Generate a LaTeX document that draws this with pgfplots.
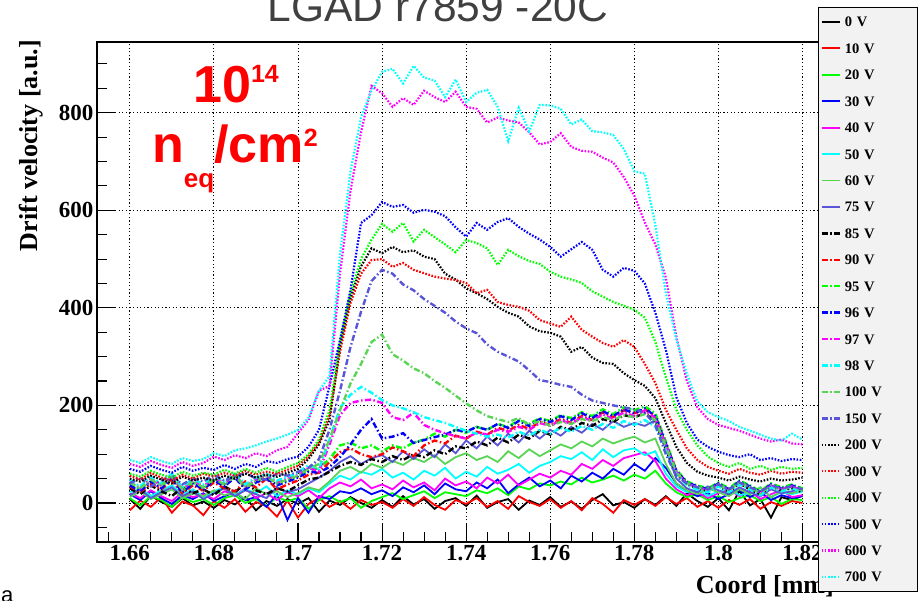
\documentclass[border=0pt]{standalone}
\usepackage{fontspec}
\setmainfont{Liberation Serif}
\newfontfamily\arial{Liberation Sans}
\usepackage{pgfplots}
\usepackage{pgfplotstable}
\pgfplotsset{compat=1.18}
\definecolor{rgreen}{RGB}{0,255,0}
\definecolor{rblue}{RGB}{0,0,255}
\definecolor{rmag}{RGB}{255,0,255}
\definecolor{rcyan}{RGB}{0,255,255}
\definecolor{reight}{RGB}{89,212,84}
\definecolor{rnine}{RGB}{89,84,216}

% one table per series, bins of 0.0025 mm from 1.66 to 1.82
\pgfplotstableread[row sep=\\]{y\\
8\\-12\\15\\2\\-8\\10\\-5\\3\\
-10\\6\\-3\\12\\-15\\4\\-6\\8\\
-2\\10\\-18\\5\\-4\\12\\0\\-10\\
6\\-8\\14\\-3\\8\\-12\\4\\10\\
-6\\15\\-10\\2\\8\\-14\\5\\-4\\
12\\-8\\3\\-12\\6\\18\\-5\\2\\
-10\\8\\-4\\14\\-6\\20\\4\\-8\\
10\\-15\\25\\-5\\8\\-30\\12\\6\\
15\\}\dA
\pgfplotstableread[row sep=\\]{y\\
-15\\5\\-8\\12\\-20\\3\\-5\\-25\\
4\\-10\\8\\-18\\2\\-6\\-28\\5\\
-30\\-2\\10\\-8\\4\\-12\\6\\-4\\
2\\-10\\8\\-6\\12\\-4\\-14\\6\\
-2\\10\\-8\\4\\-12\\14\\2\\-6\\
8\\-10\\4\\-15\\10\\-2\\-20\\6\\
-4\\8\\-6\\12\\-2\\10\\-8\\4\\
-10\\6\\-4\\8\\-12\\2\\-6\\4\\
0\\}\dB
\pgfplotstableread[row sep=\\]{y\\
10\\-5\\14\\6\\-8\\12\\2\\8\\
-4\\10\\16\\0\\8\\-6\\12\\4\\
10\\-12\\6\\14\\2\\10\\-10\\4\\
12\\20\\8\\16\\24\\10\\22\\18\\
14\\26\\20\\30\\16\\34\\28\\40\\
36\\44\\38\\52\\42\\48\\56\\46\\
58\\50\\66\\40\\22\\12\\18\\6\\
14\\2\\10\\16\\4\\12\\-2\\8\\
6\\}\dC
\pgfplotstableread[row sep=\\]{y\\
18\\6\\24\\10\\-2\\16\\8\\20\\
4\\14\\22\\6\\12\\-8\\18\\-35\\
10\\-20\\14\\8\\24\\20\\30\\18\\
26\\14\\32\\22\\36\\18\\40\\28\\
24\\42\\30\\48\\20\\38\\52\\34\\
46\\30\\56\\44\\62\\50\\70\\58\\
80\\66\\92\\72\\40\\24\\14\\20\\
8\\18\\26\\12\\22\\6\\16\\10\\
14\\}\dD
\pgfplotstableread[row sep=\\]{y\\
20\\10\\26\\14\\4\\22\\12\\18\\
8\\24\\16\\30\\10\\20\\6\\22\\
14\\26\\10\\30\\42\\34\\48\\30\\
38\\28\\46\\32\\42\\26\\50\\36\\
44\\30\\52\\40\\58\\36\\48\\60\\
52\\66\\58\\80\\70\\88\\76\\92\\
98\\104\\86\\50\\28\\16\\22\\10\\
20\\28\\14\\24\\8\\18\\26\\12\\
16\\}\dE
\pgfplotstableread[row sep=\\]{y\\
22\\30\\14\\26\\36\\18\\28\\12\\
24\\32\\16\\28\\20\\34\\14\\26\\
18\\30\\22\\40\\56\\48\\64\\58\\
70\\52\\62\\48\\66\\56\\72\\50\\
64\\54\\74\\60\\68\\80\\62\\76\\
84\\96\\90\\104\\88\\110\\94\\108\\
112\\98\\106\\60\\34\\22\\28\\14\\
24\\30\\16\\20\\32\\12\\22\\18\\
24\\}\dF
\pgfplotstableread[row sep=\\]{y\\
12\\24\\8\\18\\28\\10\\20\\14\\
26\\16\\22\\8\\30\\18\\24\\12\\
20\\32\\26\\44\\66\\74\\62\\80\\
72\\86\\78\\92\\84\\98\\80\\94\\
102\\88\\96\\84\\106\\92\\110\\96\\
108\\120\\112\\126\\116\\132\\122\\130\\
136\\124\\132\\80\\40\\26\\18\\30\\
22\\14\\28\\18\\32\\12\\24\\20\\
26\\}\dG
\pgfplotstableread[row sep=\\]{y\\
16\\28\\10\\22\\32\\14\\24\\8\\
20\\30\\14\\26\\18\\10\\32\\22\\
28\\40\\52\\66\\84\\96\\80\\92\\
98\\84\\106\\90\\110\\94\\120\\102\\
128\\112\\136\\118\\142\\124\\148\\132\\
150\\138\\156\\144\\162\\150\\168\\156\\
164\\158\\170\\110\\50\\30\\22\\34\\
26\\18\\32\\22\\14\\28\\20\\24\\
30\\}\dH
\pgfplotstableread[row sep=\\]{y\\
30\\18\\36\\24\\14\\32\\20\\28\\
16\\34\\22\\40\\26\\18\\30\\24\\
36\\48\\52\\64\\76\\84\\78\\90\\
84\\96\\88\\100\\94\\108\\100\\116\\
112\\126\\118\\134\\124\\140\\132\\148\\
140\\156\\150\\164\\158\\172\\166\\180\\
176\\184\\168\\110\\60\\38\\30\\24\\
36\\22\\40\\28\\18\\34\\26\\30\\
22\\}\dI
\pgfplotstableread[row sep=\\]{y\\
34\\22\\40\\28\\46\\20\\36\\26\\
42\\30\\24\\44\\32\\50\\28\\38\\
46\\58\\62\\84\\104\\112\\100\\94\\
100\\114\\106\\96\\118\\128\\122\\138\\
132\\146\\140\\154\\148\\160\\152\\166\\
160\\172\\164\\178\\170\\186\\176\\190\\
184\\192\\178\\120\\64\\42\\34\\28\\
40\\26\\44\\32\\22\\38\\30\\34\\
28\\}\dJ
\pgfplotstableread[row sep=\\]{y\\
40\\28\\46\\34\\52\\24\\42\\30\\
48\\36\\56\\30\\44\\52\\38\\46\\
54\\66\\72\\90\\118\\124\\112\\118\\
106\\118\\112\\124\\130\\142\\136\\150\\
144\\156\\150\\162\\156\\170\\162\\174\\
168\\180\\174\\186\\178\\192\\182\\196\\
190\\198\\184\\126\\68\\44\\36\\30\\
42\\30\\46\\36\\24\\40\\32\\38\\
30\\}\dK
\pgfplotstableread[row sep=\\]{y\\
36\\24\\44\\30\\50\\22\\40\\28\\
46\\34\\52\\28\\42\\50\\36\\44\\
52\\64\\62\\74\\94\\120\\150\\172\\
132\\136\\143\\123\\129\\135\\140\\150\\
146\\156\\150\\162\\154\\168\\158\\172\\
166\\178\\170\\184\\174\\188\\178\\192\\
184\\194\\178\\122\\66\\42\\34\\28\\
40\\28\\44\\34\\22\\38\\30\\36\\
28\\}\dL
\pgfplotstableread[row sep=\\]{y\\
44\\30\\50\\36\\56\\28\\46\\34\\
52\\40\\58\\34\\48\\56\\42\\50\\
58\\72\\65\\120\\180\\205\\210\\212\\
205\\176\\170\\185\\160\\150\\143\\137\\
132\\145\\140\\150\\146\\156\\150\\164\\
158\\170\\162\\176\\168\\182\\172\\186\\
178\\190\\174\\120\\64\\40\\32\\26\\
38\\26\\42\\32\\20\\36\\28\\34\\
26\\}\dM
\pgfplotstableread[row sep=\\]{y\\
48\\34\\54\\40\\60\\32\\50\\38\\
56\\44\\62\\38\\52\\60\\46\\54\\
62\\78\\70\\130\\195\\222\\238\\226\\
211\\200\\194\\186\\176\\170\\164\\156\\
148\\142\\136\\140\\134\\146\\138\\150\\
142\\154\\146\\158\\150\\162\\154\\168\\
160\\170\\156\\108\\58\\36\\28\\22\\
34\\22\\38\\28\\16\\32\\24\\30\\
22\\}\dN
\pgfplotstableread[row sep=\\]{y\\
42\\30\\48\\36\\54\\28\\44\\32\\
50\\38\\56\\32\\46\\54\\40\\48\\
56\\70\\80\\130\\190\\245\\285\\330\\
345\\305\\292\\276\\266\\250\\236\\220\\
204\\190\\178\\172\\166\\174\\160\\168\\
158\\166\\162\\172\\168\\176\\170\\180\\
176\\182\\170\\116\\62\\40\\32\\26\\
38\\26\\42\\32\\20\\36\\28\\34\\
26\\}\dO
\pgfplotstableread[row sep=\\]{y\\
40\\52\\34\\46\\56\\38\\50\\44\\
58\\46\\54\\62\\50\\48\\60\\56\\
64\\72\\90\\150\\230\\320\\392\\455\\
478\\470\\448\\436\\418\\404\\390\\372\\
358\\348\\325\\310\\300\\290\\272\\252\\
248\\242\\238\\222\\210\\205\\200\\196\\
192\\185\\160\\100\\55\\40\\32\\28\\
38\\28\\42\\32\\24\\36\\30\\34\\
28\\}\dP
\pgfplotstableread[row sep=\\]{y\\
50\\44\\56\\48\\40\\54\\46\\52\\
46\\56\\50\\60\\52\\58\\54\\62\\
70\\90\\120\\170\\320\\420\\485\\522\\
512\\525\\514\\518\\505\\500\\470\\458\\
440\\430\\418\\402\\390\\382\\362\\352\\
349\\341\\310\\320\\298\\287\\285\\266\\
252\\240\\215\\164\\115\\82\\64\\56\\
52\\46\\54\\48\\44\\50\\46\\48\\
52\\}\dQ
\pgfplotstableread[row sep=\\]{y\\
56\\48\\62\\52\\46\\58\\50\\60\\
54\\62\\56\\66\\58\\64\\60\\68\\
76\\96\\125\\180\\310\\410\\470\\498\\
500\\484\\492\\478\\471\\464\\460\\457\\
451\\430\\437\\412\\406\\402\\394\\375\\
368\\361\\382\\355\\341\\328\\320\\334\\
320\\285\\246\\191\\150\\112\\88\\74\\
66\\60\\70\\62\\58\\66\\60\\64\\
62\\}\dR
\pgfplotstableread[row sep=\\]{y\\
60\\54\\66\\58\\52\\64\\56\\62\\
58\\68\\60\\70\\62\\72\\64\\74\\
82\\100\\130\\190\\330\\430\\500\\540\\
572\\556\\574\\536\\560\\545\\530\\514\\
539\\533\\522\\488\\519\\506\\496\\490\\
474\\464\\458\\451\\434\\423\\412\\404\\
396\\380\\330\\258\\191\\150\\118\\95\\
82\\74\\82\\70\\76\\68\\74\\70\\
72\\}\dS
\pgfplotstableread[row sep=\\]{y\\
70\\64\\76\\68\\62\\74\\66\\72\\
68\\78\\70\\80\\74\\86\\82\\90\\
95\\115\\150\\240\\334\\437\\574\\590\\
617\\607\\611\\595\\601\\597\\588\\565\\
546\\574\\560\\576\\584\\566\\552\\540\\
525\\505\\520\\535\\519\\478\\464\\482\\
476\\450\\390\\314\\217\\164\\130\\115\\
105\\98\\94\\100\\88\\92\\86\\90\\
88\\}\dT
\pgfplotstableread[row sep=\\]{y\\
80\\74\\86\\78\\72\\84\\76\\82\\
95\\88\\98\\92\\102\\96\\108\\115\\
143\\170\\230\\240\\470\\640\\760\\855\\
840\\812\\830\\816\\845\\832\\822\\843\\
812\\808\\780\\790\\784\\780\\760\\735\\
740\\758\\730\\722\\720\\708\\698\\668\\
630\\575\\530\\462\\341\\250\\196\\172\\
160\\154\\148\\140\\132\\126\\130\\122\\
120\\}\dU
\pgfplotstableread[row sep=\\]{y\\
88\\82\\94\\86\\80\\92\\86\\90\\
102\\96\\108\\112\\118\\126\\132\\140\\
150\\175\\230\\260\\510\\680\\790\\845\\
884\\890\\860\\896\\872\\866\\832\\868\\
822\\841\\847\\812\\742\\810\\762\\816\\
815\\808\\776\\786\\762\\760\\754\\726\\
680\\675\\570\\430\\335\\265\\208\\186\\
176\\168\\156\\148\\140\\132\\128\\142\\
130\\}\dV

\pgfplotsset{
  sol/.style={line width=1.8pt},
  dd/.style={line width=2.4pt, dash pattern=on 6pt off 2.5pt on 1.5pt off 2.5pt},
  dt/.style={line width=2.2pt, dash pattern=on 1.6pt off 1.6pt},
}
\newcommand{\ser}[3]{\addplot[#1,#2] table[x expr=1.66+0.0025*\coordindex, y=y]{#3};}

\begin{document}
\begin{tikzpicture}[x=1pt,y=1pt]
\begin{axis}[
  at={(97pt,58pt)}, anchor=south west,
  scale only axis, width=737pt, height=500pt,
  xmin=1.6522, xmax=1.8275, ymin=-80, ymax=945,
  xtick={1.66,1.68,1.70,1.72,1.74,1.76,1.78,1.80,1.82},
  xticklabels={1.66,1.68,1.7,1.72,1.74,1.76,1.78,1.8,1.82},
  minor xtick={1.655,1.665,1.67,1.675,1.685,1.69,1.695,1.705,1.71,1.715,1.725,1.73,1.735,1.745,1.75,1.755,1.765,1.77,1.775,1.785,1.79,1.795,1.805,1.81,1.815,1.825},
  ytick={0,200,400,600,800},
  minor ytick={-50,50,100,150,250,300,350,450,500,550,650,700,750,850,900},
  tick pos=left, tick align=inside,
  major tick length=19pt, minor tick length=10pt,
  every tick/.append style={black, line width=1.1pt},
  grid=major,
  major grid style={black, line width=0.9pt, dash pattern=on 1.2pt off 2.4pt},
  axis line style={line width=1.3pt},
  /pgf/number format/assume math mode=true,
  ticklabel style={font=\bfseries\fontsize{23}{23}\selectfont},
  xlabel={Coord [mm]}, ylabel={Drift velocity [a.u.]},
  label style={font=\bfseries\fontsize{26}{26}\selectfont},
  xlabel style={at={(axis description cs:1,-0.102)}, anchor=base east, inner sep=0pt},
  ylabel style={at={(axis description cs:-0.09,1.004)}, anchor=east, inner sep=0pt},
  legend style={
    at={(axis description cs:0.9783,1.07)}, anchor=north west,
    fill=black!5, draw=black, line width=0.8pt,
    inner xsep=2pt, inner ysep=9.5pt,
    row sep=16.43pt,
    font=\bfseries\fontsize{14.5}{14.5}\selectfont,
    nodes={inner sep=0pt, text height=10pt, text depth=0pt, text width=71pt, align=left},
    /tikz/every odd column/.append style={column sep=4pt},
  },
  legend cell align=left,
  legend image code/.code={\draw[#1] (0pt,0pt) -- (18pt,0pt);},
]
\ser{black}{sol}{\dA}
\ser{red}{sol}{\dB}
\ser{rgreen}{sol}{\dC}
\ser{rblue}{sol}{\dD}
\ser{rmag}{sol}{\dE}
\ser{rcyan}{sol}{\dF}
\ser{reight}{sol}{\dG}
\ser{rnine}{sol}{\dH}
\ser{black}{dd}{\dI}
\ser{red}{dd}{\dJ}
\ser{rgreen}{dd}{\dK}
\ser{rblue}{dd}{\dL}
\ser{rmag}{dd}{\dM}
\ser{rcyan}{dd}{\dN}
\ser{reight}{dd}{\dO}
\ser{rnine}{dd}{\dP}
\ser{black}{dt}{\dQ}
\ser{red}{dt}{\dR}
\ser{rgreen}{dt}{\dS}
\ser{rblue}{dt}{\dT}
\ser{rmag}{dt}{\dU}
\ser{rcyan}{dt}{\dV}
\legend{0 V,10 V,20 V,30 V,40 V,50 V,60 V,75 V,85 V,90 V,95 V,96 V,97 V,98 V,100 V,150 V,200 V,300 V,400 V,500 V,600 V,700 V}
\end{axis}
\node[anchor=base, inner sep=0pt, text=black!75, font=\arial\fontsize{42.5}{42.5}\selectfont] at (438pt,578pt) {LGAD r7859 -20C};
\node[anchor=base west, inner sep=0pt, text=red, font=\arial\bfseries\fontsize{52}{52}\selectfont] at (193pt,497pt) {10\raisebox{20pt}{\fontsize{25}{25}\selectfont 14}};
\node[anchor=base west, inner sep=0pt, text=red, font=\arial\bfseries\fontsize{52}{52}\selectfont] at (152pt,437pt) {n\raisebox{-25pt}{\fontsize{26}{26}\selectfont eq}/cm\raisebox{16pt}{\fontsize{25}{25}\selectfont 2}};
\node[anchor=base west, inner sep=0pt, font=\arial\fontsize{22}{22}\selectfont] at (1pt,-2pt) {a};
\pgfresetboundingbox
\useasboundingbox (0pt,0pt) rectangle (918pt,600pt);
\end{tikzpicture}
\end{document}
